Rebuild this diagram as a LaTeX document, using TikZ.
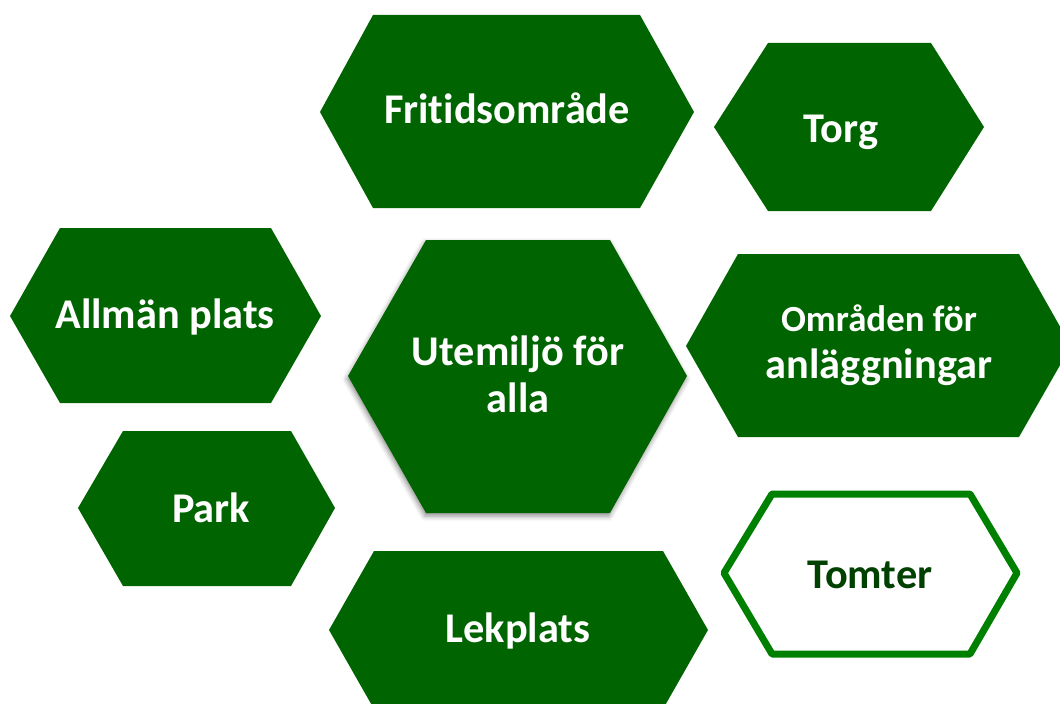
\documentclass[tikz,border=0pt]{standalone}
\usepackage{fontspec}
\setmainfont{Carlito}[Ligatures=NoCommon]
\usetikzlibrary{shadows.blur}
\definecolor{hexgreen}{RGB}{0,100,0}
\definecolor{rimgreen}{RGB}{0,128,0}
\definecolor{textgreen}{RGB}{0,64,0}
\tikzset{
  hexfill/.style={fill=hexgreen},
  hexrim/.style={draw=rimgreen, line width=7bp, line join=round, fill=white},
  hexlabel/.style={anchor=base, text=white, align=center, inner sep=0pt,
    font=\bfseries\fontsize{42.5}{46.7}\selectfont},
}
\begin{document}
\begin{tikzpicture}[x=1bp,y=-1bp]
\useasboundingbox (0,0) rectangle (1060,704);

% hexagons
\fill[hexfill] (320,112) -- (373,15) -- (640,15) -- (694,112) -- (640,208) -- (373,208) -- cycle;
\fill[hexfill] (714,127) -- (768,43) -- (931,43) -- (984,127) -- (931,211) -- (768,211) -- cycle;
\fill[hexfill] (10,316) -- (60,228) -- (271,228) -- (321,316) -- (271,403) -- (60,403) -- cycle;
\fill[hexfill] (78,508) -- (123,431) -- (291,431) -- (335,508) -- (291,586) -- (123,586) -- cycle;
\fill[hexfill, blur shadow={shadow xshift=-1bp, shadow yshift=-3bp, shadow blur radius=5bp, shadow opacity=45}]
  (348,376) -- (426,240) -- (610,240) -- (687,376) -- (610,513) -- (426,513) -- cycle;
\fill[hexfill] (686,346) -- (738,254) -- (1019,254) -- (1071,346) -- (1019,437) -- (738,437) -- cycle;
\fill[hexfill] (329,630) -- (374,551) -- (663,551) -- (708,630) -- (663,709) -- (374,709) -- cycle;
\draw[hexrim] (724,573) -- (772,494) -- (970,494) -- (1017,573) -- (970,654) -- (772,654) -- cycle;

% labels (base = last line)
\node[hexlabel] (fritid) at (507,124) {Fritidsområde};
\node[hexlabel] (torg) at (841,143) {Torg};
\node[hexlabel] (allman) at (165,328) {Allmän plats};
\node[hexlabel] (park) at (211,522) {Park};
\node[hexlabel] (utemiljo) at (518,412) {Utemiljö för\\alla};
\node[hexlabel] (omraden) at (879,378) {{\fontsize{37}{46.6}\selectfont Områden för}\\anläggningar};
\node[hexlabel] (lekplats) at (518,642) {Lekplats};
\node[hexlabel, text=textgreen] (tomter) at (870,588) {Tomter};
\end{tikzpicture}
\end{document}
